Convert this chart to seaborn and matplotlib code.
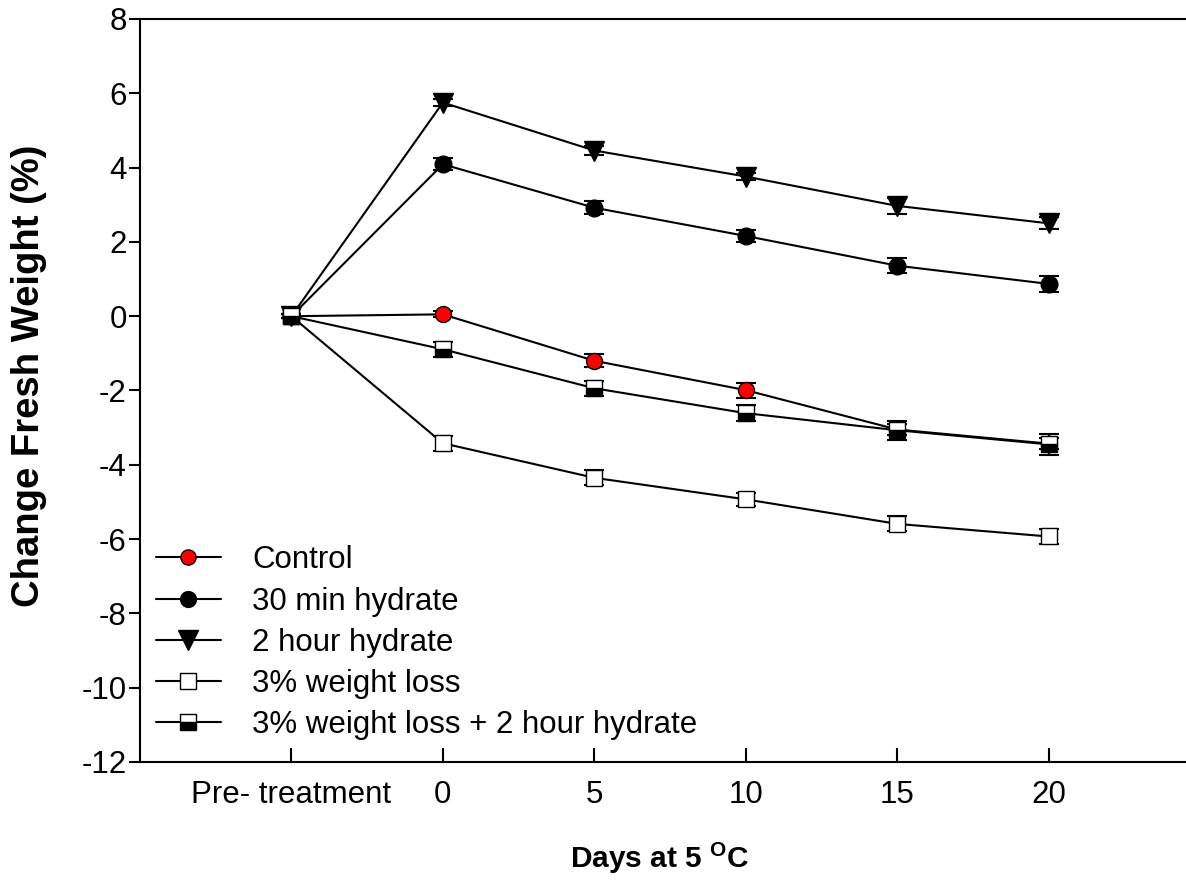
import matplotlib
matplotlib.use("Agg")
import numpy as np
import pandas as pd
import matplotlib.pyplot as plt
import seaborn as sns

# Sampling times (days at 5 degC), plotted at evenly spaced positions
time_labels = ["Pre- treatment", "0", "5", "10", "15", "20"]

# Mean change in fresh weight (%) and standard errors per treatment
control = [0.0, 0.05, -1.20, -1.99, -3.05, -3.43]
control_err = [0.05, 0.08, 0.17, 0.20, 0.15, 0.15]

hydrate_30min = [0.0, 4.09, 2.92, 2.16, 1.36, 0.87]
hydrate_30min_err = [0.05, 0.16, 0.18, 0.17, 0.21, 0.22]

hydrate_2h = [0.0, 5.75, 4.46, 3.76, 2.97, 2.50]
hydrate_2h_err = [0.05, 0.10, 0.12, 0.10, 0.22, 0.16]

loss_3pct = [0.0, -3.42, -4.35, -4.93, -5.59, -5.93]
loss_3pct_err = [0.05, 0.20, 0.20, 0.18, 0.20, 0.20]

loss_3pct_hydrate_2h = [0.0, -0.89, -1.94, -2.61, -3.07, -3.45]
loss_3pct_hydrate_2h_err = [0.05, 0.20, 0.20, 0.21, 0.25, 0.28]

series_names = ["Control", "30 min hydrate", "2 hour hydrate",
                "3% weight loss", "3% weight loss + 2 hour hydrate"]

sns.set_theme(style="ticks")
plt.rcParams["font.family"] = ["Liberation Sans", "DejaVu Sans"]
plt.rcParams["mathtext.fontset"] = "custom"
plt.rcParams["mathtext.rm"] = "Liberation Sans"
plt.rcParams["mathtext.bf"] = "Liberation Sans:bold"
plt.rcParams["axes.unicode_minus"] = False
plt.rcParams["text.color"] = "black"
plt.rcParams["axes.labelcolor"] = "black"
plt.rcParams["xtick.color"] = "black"
plt.rcParams["ytick.color"] = "black"

fig = plt.figure(figsize=(11.86, 8.94), dpi=100)
ax = fig.add_axes([140 / 1186, 132 / 894, 1060 / 1186, 743 / 894])

positions = np.arange(len(time_labels))

rows = []
for name, vals, errs in zip(
        series_names,
        [control, hydrate_30min, hydrate_2h, loss_3pct, loss_3pct_hydrate_2h],
        [control_err, hydrate_30min_err, hydrate_2h_err, loss_3pct_err,
         loss_3pct_hydrate_2h_err]):
    for p, v, e in zip(positions, vals, errs):
        rows.append({"treatment": name, "pos": p, "value": v, "err": e})
df = pd.DataFrame(rows)

marker_styles = {
    "Control": dict(marker="o", markersize=11.5, markerfacecolor="red"),
    "30 min hydrate": dict(marker="o", markersize=12, markerfacecolor="black"),
    "2 hour hydrate": dict(marker="v", markersize=14.5, markerfacecolor="black"),
    "3% weight loss": dict(marker="s", markersize=11.5, markerfacecolor="white"),
    "3% weight loss + 2 hour hydrate": dict(
        marker="s", markersize=12, markerfacecolor="black",
        fillstyle="bottom", markerfacecoloralt="white"),
}

for i, name in enumerate(series_names):
    sub = df[df["treatment"] == name]
    z = 3 + i
    ax.errorbar(sub["pos"], sub["value"], yerr=sub["err"], fmt="none",
                ecolor="black", elinewidth=1.5, capsize=7.5, capthick=1.5,
                zorder=z)
    sns.lineplot(data=sub, x="pos", y="value", ax=ax, color="black",
                 linewidth=1.5, markeredgecolor="black", markeredgewidth=1.0,
                 label=name, zorder=z + 0.5, errorbar=None, sort=False,
                 **marker_styles[name])

ax.set_xlim(-1, 6)
ax.set_ylim(-12, 8)
ax.set_xticks(positions)
ax.set_xticklabels(time_labels)
ax.set_yticks(np.arange(-12, 9, 2))

for side in ["left", "bottom", "top", "right"]:
    ax.spines[side].set_linewidth(1.5)
    ax.spines[side].set_color("black")

ax.tick_params(axis="x", direction="in", length=10, width=1.5,
               labelsize=22.5, pad=13, colors="black")
ax.tick_params(axis="y", direction="out", length=8, width=1.5,
               labelsize=22.5, pad=1.5, colors="black")

ax.set_xlabel(r"Days at 5 $^{\mathbf{O}}$C", fontsize=21.5,
              fontweight="bold")
ax.xaxis.set_label_coords(0.49, -0.105)
ax.set_ylabel("Change Fresh Weight (%)", fontsize=27.5, fontweight="bold")
ax.yaxis.set_label_coords(-0.088, 0.52)

handles, labels = ax.get_legend_handles_labels()
ax.legend(handles, labels, loc="lower left",
          bbox_to_anchor=(0.0, 0.008), frameon=False, fontsize=22.5,
          handlelength=2.1, handletextpad=1.0, labelspacing=0.36,
          borderaxespad=0.3, borderpad=0.2, markerscale=0.95)

fig.savefig("out.png", dpi=100)
